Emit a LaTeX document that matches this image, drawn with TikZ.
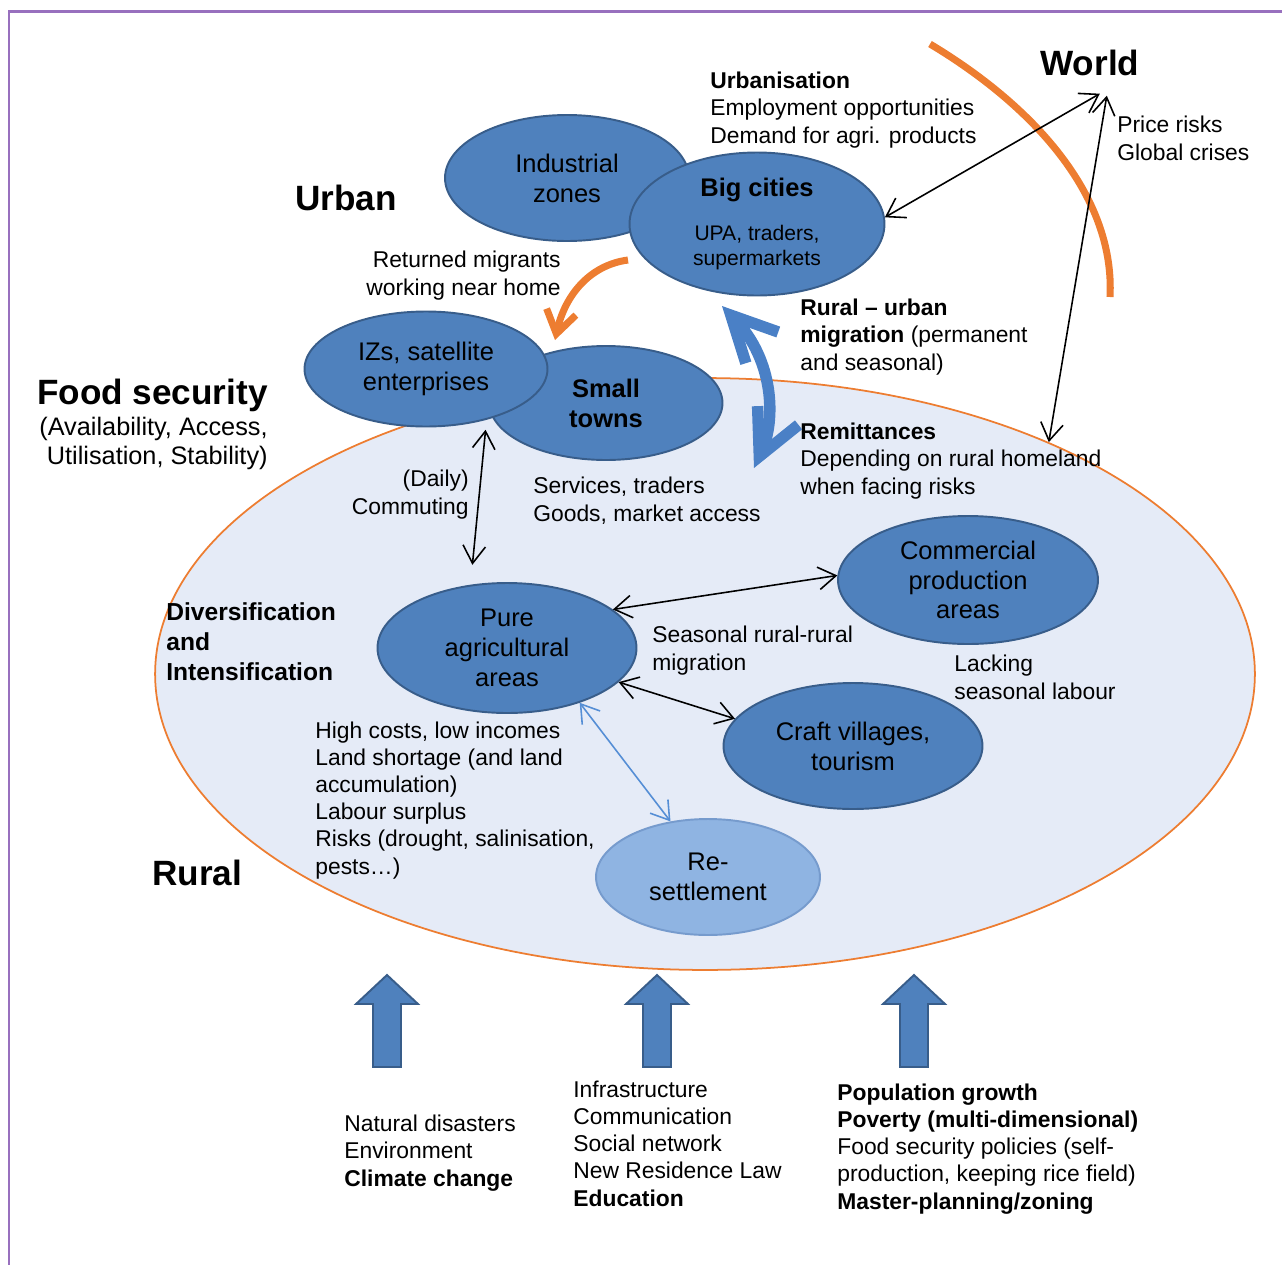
\documentclass[tikz,border=0pt]{standalone}
\usepackage{fontspec}
\setmainfont{Liberation Sans}
\usetikzlibrary{arrows.meta,positioning,shapes.geometric,calc}

\definecolor{framepurple}{RGB}{152,112,190}
\definecolor{zonefill}{RGB}{79,129,189}
\definecolor{zoneline}{RGB}{56,93,138}
\definecolor{ruralfill}{RGB}{229,235,247}
\definecolor{rimorange}{RGB}{237,125,49}
\definecolor{settlefill}{RGB}{143,180,226}
\definecolor{settleline}{RGB}{118,155,205}
\definecolor{linkblue}{RGB}{85,142,213}
\definecolor{migblue}{RGB}{74,128,198}

\begin{document}
\begin{tikzpicture}[x=0.02cm, y=-0.02cm, >={Straight Barb[length=3.5mm,width=4.5mm]},
  zone/.style={ellipse, draw=zoneline, fill=zonefill, line width=1.1pt, inner sep=0pt,
    align=center, font=\fontsize{14.5}{17}\selectfont},
  settle/.style={draw=settleline, fill=settlefill},
  note/.style={align=left, inner sep=0pt, font=\fontsize{13}{15.4}\selectfont},
  big/.style={inner sep=0pt, font=\fontsize{20}{24}\selectfont\bfseries},
  link/.style={<->, line width=0.9pt},
  blockarrow/.style={draw=zoneline, fill=zonefill, line width=1.1pt}]
  \useasboundingbox (0,0) rectangle (1282,1265);
  \draw[framepurple, line width=0.06cm] (9,1265) -- (9,11) -- (1282,11);

  % rural area and world rim
  \node[ellipse, draw=rimorange, fill=ruralfill, line width=1pt, minimum width=22cm, minimum height=11.84cm] (rural) at (705,674) {};
  \draw[rimorange, line width=4pt] (930,44) .. controls (1040,110) and (1115,200) .. (1110,297);

  % urban zones
  \node[zone, minimum width=4.88cm, minimum height=2.52cm] (indzone) at (567,178) {Industrial\\zones};
  \node[zone, minimum width=5.1cm, minimum height=2.86cm] (bigcity) at (757,224)
    {\textbf{Big cities}\\[8pt]{\fontsize{12}{14}\selectfont UPA, traders,}\\[-3pt]{\fontsize{12}{14}\selectfont supermarkets}};
  \node[zone, minimum width=4.66cm, minimum height=2.28cm] (towns) at (606,403) {\textbf{Small}\\\textbf{towns}};
  \node[zone, minimum width=4.86cm, minimum height=2.3cm] (izs) at (426,369) {IZs, satellite\\enterprises};

  % rural zones
  \node[zone, minimum width=5.18cm, minimum height=2.6cm] (pure) at (507,648) {Pure\\agricultural\\areas};
  \node[zone, minimum width=5.2cm, minimum height=2.56cm] (commerce) at (968,580) {Commercial\\production\\areas};
  \node[zone, minimum width=5.18cm, minimum height=2.52cm] (craft) at (853,746) {Craft villages,\\tourism};
  \node[zone, settle, minimum width=4.48cm, minimum height=2.32cm] (resettle) at (708,877) {Re-\\settlement};

  % headings
  \node[big, anchor=base west] (urban) at (295,210) {Urban};
  \node[big, anchor=base west] (world) at (1040,75) {World};
  \node[big, anchor=base east] (foodsec) at (268,404) {Food security};
  \node[inner sep=0pt, align=right, font=\fontsize{14.4}{16.4}\selectfont, below left=3pt and 0pt of foodsec.south east] (pillars)
    {(Availability, Access,\\Utilisation, Stability)};
  \node[inner sep=0pt, align=left, font=\fontsize{14}{17}\selectfont\bfseries, anchor=base west] (divers) at (166,680)
    {Diversification\\and\\Intensification};
  \node[big, anchor=base west] (rurallbl) at (152,885) {Rural};

  % labels (anchored at the baseline of their last line)
  \node[note, anchor=base west] (urbanis) at (710,143) {\textbf{Urbanisation}\\Employment opportunities\\Demand for agri. products};
  \node[note, anchor=base west] (prisk) at (1117,160) {Price risks\\Global crises};
  \node[note, anchor=base east, align=right] (returned) at (561,295) {Returned migrants\\working near home};
  \node[note, anchor=base west] (migr) at (800,370) {\textbf{Rural – urban}\\\textbf{migration} (permanent\\and seasonal)};
  \node[note, anchor=base west] (remit) at (800,494) {\textbf{Remittances}\\Depending on rural homeland\\when facing risks};
  \node[note, anchor=base east, align=right] (daily) at (469,514) {(Daily)\\Commuting};
  \node[note, anchor=base west] (services) at (533,521) {Services, traders\\Goods, market access};
  \node[note, anchor=base west] (seasonal) at (652,670) {Seasonal rural-rural\\migration};
  \node[note, anchor=base west] (lacking) at (954,699) {Lacking\\seasonal labour};
  \node[note, anchor=base west] (costs) at (315,874) {High costs, low incomes\\Land shortage (and land\\accumulation)\\Labour surplus\\Risks (drought, salinisation,\\pests…)};
  \node[note, anchor=base west] (nature) at (344,1186) {Natural disasters\\Environment\\\textbf{Climate change}};
  \node[note, anchor=base west] (infra) at (573,1206) {Infrastructure\\Communication\\Social network\\New Residence Law\\\textbf{Education}};
  \node[note, anchor=base west] (popul) at (837,1209) {\textbf{Population growth}\\\textbf{Poverty (multi-dimensional)}\\Food security policies (self-\\production, keeping rice field)\\\textbf{Master-planning/zoning}};

  % connectors
  \draw[link] (bigcity.3) -- ($(world.south)+(10,18)$);
  \draw[link] ($(world.south)+(17,20)$) -- (rural.34);
  \draw[link, shorten <=0.2cm, shorten >=0.4cm] (izs.-40) -- (pure.120);
  \draw[link] (pure.20) -- (commerce.178);
  \draw[link] (pure.-17) -- (craft.167);
  \draw[link, linkblue] (pure.-37) -- (resettle.124);

  \coordinate (retfrom) at (628,260);
  \coordinate (retto) at (555,340);
  \draw[rimorange, line width=4pt, -{Straight Barb[length=4.5mm,width=6mm]}] (retfrom) .. controls (590,265) and (565,295) .. (retto);

  \coordinate (migtop) at (722,306);
  \coordinate (migbot) at (754,468);
  \draw[migblue, line width=6.5pt, {Straight Barb[length=9mm,width=9mm]}-{Straight Barb[length=9mm,width=9mm]}]
    (migtop) .. controls (774,360) and (776,420) .. (migbot);

  % driving forces
  \foreach \bx in {387,657,914}
    \draw[blockarrow] (\bx,975) -- (\bx+31,1004) -- (\bx+14,1004) -- (\bx+14,1067)
      -- (\bx-14,1067) -- (\bx-14,1004) -- (\bx-31,1004) -- cycle;
\end{tikzpicture}
\end{document}
